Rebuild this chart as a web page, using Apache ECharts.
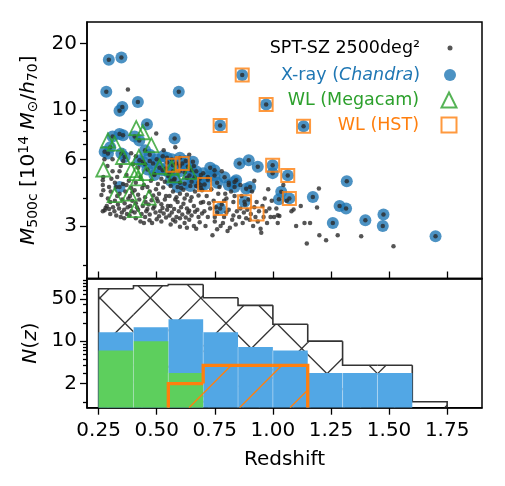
<!DOCTYPE html>
<html>
<head>
<meta charset="utf-8">
<script src="https://cdn.jsdelivr.net/npm/echarts@6/dist/echarts.min.js"></script>
<style>
html, body { margin: 0; padding: 0; background: #fff; }
#main { width: 505px; height: 486px; }
</style>
</head>
<body>
<div id="main"></div>
<script>
// tick values
const zTicks = [0.25, 0.5, 0.75, 1.0, 1.25, 1.5, 1.75];
const massTicks = [3, 6, 10, 20];
const massMinor = [2, 4, 5, 7, 8, 9];
const countTicks = [2, 10, 50];
const countMinor = [1, 3, 4, 5, 6, 7, 8, 9, 20, 30, 40, 60, 70, 80, 90, 100];

// clusters [redshift, M500c] - SPT-SZ without follow-up
const sptOnly = [
  [0.262,4.14],[0.268,4.83],[0.268,4.6],[0.27,4.35],[0.276,3.54],[0.268,3.5],[0.28,3.62],[0.285,3.7],[0.29,4.0],[0.295,3.58],
  [0.3,3.85],[0.302,4.3],[0.305,4.9],[0.31,5.3],[0.312,3.65],[0.318,3.5],[0.32,3.9],[0.325,4.5],[0.33,5.0],[0.333,3.75],
  [0.338,3.6],[0.34,4.2],[0.345,5.6],[0.35,3.45],[0.352,3.95],[0.355,4.65],[0.36,3.55],[0.362,3.8],[0.365,4.3],[0.37,5.1],
  [0.372,3.4],[0.375,3.65],[0.378,4.0],[0.38,4.8],[0.383,3.35],[0.386,3.7],[0.39,4.45],[0.392,3.5],[0.395,3.9],[0.398,5.7],
  [0.288,5.6],[0.31,6.0],[0.356,5.9],[0.376,12.4],[0.3,3.4],[0.326,3.35],[0.345,3.3],[0.36,3.25],[0.385,4.1],[0.34,5.3],
  [0.275,6.0],[0.39,6.4],[0.32,4.7],[0.27,5.0],[0.295,4.5],[0.33,4.1],[0.37,4.6],[0.395,4.25],
  [0.41,3.25],[0.43,3.15],[0.45,3.3],[0.469,3.19],[0.48,3.1],[0.5,3.22],[0.52,3.15],[0.54,3.28],[0.445,3.1],[0.51,3.32],
  [0.405,3.45],[0.42,3.55],[0.435,3.4],[0.455,3.5],[0.47,3.38],[0.485,3.6],[0.495,3.45],[0.515,3.5],[0.53,3.42],[0.545,3.55],
  [0.46,3.58],[0.525,3.62],[0.41,3.8],[0.425,3.95],[0.44,3.7],[0.452,3.85],[0.465,3.75],[0.478,3.92],[0.49,3.68],[0.505,3.88],
  [0.52,3.76],[0.535,3.95],[0.548,3.7],[0.415,3.65],[0.5,4.0],[0.405,4.35],[0.42,4.15],[0.438,4.45],[0.45,4.05],[0.47,4.3],
  [0.485,4.12],[0.497,4.4],[0.51,4.2],[0.528,4.48],[0.54,4.1],[0.46,4.5],[0.41,4.7],[0.43,5.0],[0.445,4.6],[0.475,4.8],
  [0.49,5.15],[0.505,4.65],[0.52,4.9],[0.535,4.75],[0.55,5.05],[0.42,5.5],[0.47,5.9],[0.498,7.85],[0.53,6.6],[0.45,5.7],
  [0.545,5.8],[0.41,6.2],
  [0.56,3.05],[0.58,3.15],[0.6,2.98],[0.62,3.1],[0.64,3.2],[0.66,3.0],[0.67,2.92],[0.685,3.12],[0.57,3.2],[0.63,2.95],
  [0.555,3.35],[0.565,3.45],[0.585,3.3],[0.595,3.5],[0.61,3.38],[0.625,3.28],[0.635,3.45],[0.65,3.35],[0.665,3.48],[0.68,3.3],
  [0.695,3.42],[0.6,3.25],[0.56,3.7],[0.575,3.58],[0.59,3.85],[0.605,3.65],[0.615,3.78],[0.63,3.6],[0.645,3.9],[0.66,3.7],
  [0.675,3.55],[0.69,3.82],[0.58,3.95],[0.64,3.52],[0.555,4.1],[0.57,4.3],[0.585,4.05],[0.6,4.2],[0.615,4.38],[0.63,4.15],
  [0.65,4.05],[0.665,4.3],[0.68,4.12],[0.695,4.35],[0.62,4.0],[0.605,4.45],[0.56,4.55],[0.575,4.85],[0.6,4.7],[0.63,4.95],
  [0.65,4.75],[0.67,4.55],[0.685,4.9],[0.69,4.45],[0.57,5.3],[0.62,5.25],[0.66,5.6],[0.6,5.6],[0.69,5.1],[0.58,6.8],[0.64,6.3],
  [0.71,3.0],[0.72,3.3],[0.73,3.6],[0.74,2.73],[0.745,3.9],[0.75,3.15],[0.76,3.45],[0.765,4.2],[0.775,3.0],[0.78,3.75],
  [0.79,3.3],[0.8,4.0],[0.805,2.85],[0.81,3.55],[0.82,4.3],[0.825,3.2],[0.83,3.85],[0.84,3.05],[0.845,3.5],[0.715,4.1],
  [0.725,3.8],[0.735,4.4],[0.755,3.65],[0.77,4.5],[0.785,3.1],[0.795,4.2],[0.8,3.45],[0.815,2.95],[0.835,4.1],[0.705,3.5],
  [0.72,4.85],[0.78,5.3],[0.81,4.7],[0.75,3.3],[0.83,3.35],[0.7,3.85],[0.76,2.9],[0.79,3.9],
  [0.855,3.3],[0.86,3.6],[0.865,4.1],[0.87,3.1],[0.875,3.45],[0.88,3.75],[0.885,3.25],[0.89,3.55],[0.895,3.95],[0.9,3.2],
  [0.905,3.4],[0.91,4.3],[0.915,3.0],[0.92,3.65],[0.925,3.3],[0.93,3.85],[0.935,3.15],[0.94,3.5],[0.947,2.92],[0.95,2.8],
  [0.955,3.7],[0.96,3.3],[0.965,4.0],[0.97,3.5],[0.975,3.1],[0.98,4.4],[0.985,3.6],[0.99,3.3],[0.86,4.6],[0.92,4.8],[0.995,3.9],
  [1.005,3.3],[1.015,3.6],[1.021,3.1],[1.021,3.36],[1.028,3.33],[1.045,4.6],[1.06,3.9],[1.08,3.5],[1.089,3.56],[1.1,3.0],
  [1.12,3.7],[1.146,2.5],[1.136,3.1],
  [1.16,3.1],[1.198,4.43],[1.19,3.64],[1.2,2.73],[1.229,2.59],[1.279,2.73],[1.38,2.7],[1.519,2.43]
];

// X-ray (Chandra) follow-up
const chandra = [
  [0.294,16.9],[0.348,17.3],[0.283,12.1],[0.352,10.35],[0.34,9.93],[0.34,7.8],[0.355,7.7],[0.31,7.6],[0.276,6.5],[0.29,6.37],
  [0.348,6.37],[0.362,6.15],[0.34,4.5],[0.30,6.8],
  [0.419,10.9],[0.458,8.65],[0.405,7.6],[0.425,7.3],[0.426,5.95],[0.44,5.85],[0.484,5.75],[0.526,6.2],[0.544,6.1],[0.512,5.5],
  [0.526,5.36],[0.45,6.6],[0.47,6.3],[0.5,6.0],[0.46,5.4],[0.49,5.1],[0.54,5.45],
  [0.595,12.1],[0.577,7.45],[0.584,5.75],[0.577,4.9],[0.634,5.55],[0.656,5.85],[0.649,5.36],[0.641,5.08],[0.663,4.98],[0.62,4.66],
  [0.57,5.64],[0.61,5.75],[0.565,6.0],[0.6,5.3],[0.625,5.9],[0.68,4.7],[0.59,4.5],[0.555,5.2],[0.67,5.3],[0.69,4.6],
  [0.6,6.1],[0.645,4.55],[0.56,4.8],
  [0.749,5.36],[0.749,5.08],[0.792,4.98],[0.842,4.83],[0.835,4.74],[0.835,4.5],[0.773,8.53],[0.773,3.6],[0.706,4.62],[0.72,5.0],
  [0.81,4.6],[0.73,5.5],[0.76,4.7],[0.7,5.2],
  [0.868,14.4],[0.971,10.6],[0.856,5.75],[0.896,5.95],[0.935,5.55],[0.885,4.42],[0.902,4.5],[0.878,3.86],
  [0.999,5.64],[0.999,5.2],[1.064,5.08],[1.036,4.29],[1.026,3.96],[1.071,4.0],[1.132,8.46],
  [1.172,4.06],[1.258,3.1],[1.287,3.7],[1.318,4.78],[1.315,3.6],[1.398,3.19],[1.476,3.38],[1.473,3.0],[1.7,2.7]
];

// WL Megacam
const megacam = [
  [0.29,7.3],[0.319,7.07],[0.355,6.15],[0.27,5.4],[0.39,5.36],[0.319,4.14],[0.383,4.2],
  [0.405,3.54],[0.412,8.3],[0.44,7.95],[0.477,6.95],[0.423,6.15],[0.412,5.2],[0.455,5.2],[0.419,4.92],[0.512,5.55],[0.466,4.03],
  [0.577,5.08],[0.641,5.27],[0.565,5.5]
];

// WL HST
const hst = [
  [0.868,14.4],[0.971,10.6],[0.773,8.53],[1.132,8.46],[0.57,5.64],[0.61,5.75],[0.706,4.62],
  [0.773,3.6],[0.878,3.86],[0.932,3.4],[0.999,5.64],[1.064,5.08],[1.071,4.0]
];

// histograms N(z)
const binEdges = [0.25, 0.40, 0.55, 0.70, 0.85, 1.00, 1.15, 1.30, 1.45, 1.60, 1.75];
const nSPT     = [73, 82, 86, 52, 39, 19, 10, 4, 4, 1];
const nChandra = [14, 17, 23, 14, 8, 7, 3, 3, 3, 0];
const nMegacam = [7, 10, 3, 0, 0, 0, 0, 0, 0, 0];
const nHST     = [0, 0, 2, 4, 4, 4, 0, 0, 0, 0];

const FONT = 'DejaVu Sans';

function histData(counts) {
  const out = [];
  counts.forEach(function (n, i) {
    if (n > 0) out.push([binEdges[i], binEdges[i + 1], n, counts[i - 1] || 0, counts[i + 1] || 0]);
  });
  return out;
}

// 45 degree hatch lines clipped to a pixel rect
function hatch(xa, xb, ya, yb, step, off, dir, style) {
  const segs = [];
  if (dir > 0) { // '/'  y = d - x
    let d = Math.ceil((xa + ya - off) / step) * step + off;
    for (; d <= xb + yb; d += step) {
      const xs = Math.max(xa, d - yb), xe = Math.min(xb, d - ya);
      if (xe > xs) segs.push({ type: 'line', shape: { x1: xs, y1: d - xs, x2: xe, y2: d - xe }, style: style });
    }
  } else { // '\'  y = x + c
    let c = Math.ceil((ya - xb - off) / step) * step + off;
    for (; c <= yb - xa; c += step) {
      const xs = Math.max(xa, ya - c), xe = Math.min(xb, yb - c);
      if (xe > xs) segs.push({ type: 'line', shape: { x1: xs, y1: xs + c, x2: xe, y2: xe + c }, style: style });
    }
  }
  return segs;
}

function histRender(opt) {
  return function (params, api) {
    const x0 = api.value(0), x1 = api.value(1), n = api.value(2);
    const prev = api.value(3), next = api.value(4);
    const cs = params.coordSys;
    const yBot = cs.y + cs.height;
    const tl = api.coord([x0, n]);
    const br = api.coord([x1, n]);
    const xa = tl[0], xb = br[0], ya = tl[1];
    let children = [];
    if (opt.fill) {
      children.push({ type: 'rect', shape: { x: xa, y: ya, width: xb - xa, height: yBot - ya }, style: { fill: opt.fill } });
      if (prev > 0) children.push({ type: 'line', shape: { x1: xa, y1: ya, x2: xa, y2: yBot }, style: { stroke: 'rgba(255,255,255,0.35)', lineWidth: 1 } });
    }
    if (opt.hatch) {
      const hs = { stroke: opt.hatchColor, lineWidth: opt.hatchWidth };
      opt.hatch.forEach(function (h) {
        children = children.concat(hatch(xa, xb, ya, yBot, opt.step, h.off, h.dir, hs));
      });
    }
    if (opt.stroke) {
      const yPrev = prev > 0 ? api.coord([x0, prev])[1] : yBot;
      const pts = [[xa, yPrev], [xa, ya], [xb, ya]];
      if (!(next > 0)) pts.push([xb, yBot]);
      children.push({ type: 'polyline', shape: { points: pts }, style: { stroke: opt.stroke, lineWidth: opt.lineWidth, fill: null, lineJoin: 'miter' } });
    }
    return { type: 'group', children: children };
  };
}

// legend entry: marker centred at x=450, text ending at x=420
function legendEntry(name, size, top, color, label, extra) {
  const rich = {
    a: { fontFamily: FONT, fontSize: 17.5, color: color },
    b: { fontFamily: FONT, fontSize: 17.5, fontStyle: 'italic', color: color },
    g: { fontFamily: FONT, fontSize: 17.5, width: 25 - size / 2 }
  };
  return Object.assign({
    data: [name], right: 505 - 450 - size / 2, top: top, itemWidth: size, itemHeight: size, padding: 0,
    align: 'right', selectedMode: false, formatter: label + '{g| }',
    textStyle: { fontFamily: FONT, fontSize: 17.5, color: color, rich: rich }
  }, extra || {});
}

const labelStyle = { fontFamily: FONT, fontSize: 20, color: '#000' };
const tickLine = { color: '#000', width: 1.3 };
const axisLine = { show: true, onZero: false, lineStyle: { color: '#000', width: 1.5 } };

const myChart = echarts.init(document.getElementById('main'), null, { renderer: 'canvas' });

const option = {
  animation: false,
  backgroundColor: '#fff',
  grid: [
    { left: 87, right: 23, top: 22, height: 256.5, show: true, borderColor: '#000', borderWidth: 1.5, backgroundColor: 'transparent' },
    { left: 87, right: 23, top: 278.5, height: 129.2, show: true, borderColor: '#000', borderWidth: 1.5, backgroundColor: 'transparent' }
  ],
  legend: [
    legendEntry('SPT-SZ', 5, 39, '#000', '{a|SPT-SZ 2500deg²}'),
    legendEntry('Chandra', 12, 66, '#1f77b4', '{a|X-ray (}{b|Chandra}{a|)}'),
    legendEntry('Megacam', 15, 91, '#2ca02c', '{a|WL (Megacam)}',
      { itemStyle: { color: 'transparent', borderColor: '#2ca02c', borderWidth: 2 } }),
    legendEntry('HST', 15, 116, '#ff7f0e', '{a|WL (HST)}',
      { itemStyle: { color: 'transparent', borderColor: '#ff7f0e', borderWidth: 2 } })
  ],
  xAxis: [
    { gridIndex: 0, type: 'value', min: 0.2, max: 1.9, axisLine: axisLine, splitLine: { show: false },
      axisTick: { show: true, inside: true, length: 7, customValues: zTicks, lineStyle: tickLine },
      axisLabel: { show: false } },
    { gridIndex: 1, type: 'value', min: 0.2, max: 1.9, axisLine: axisLine, splitLine: { show: false },
      axisTick: { show: true, length: 7, customValues: zTicks, lineStyle: tickLine },
      axisLabel: Object.assign({ customValues: zTicks, margin: 13, formatter: function (v) { return v.toFixed(2); } }, labelStyle),
      name: 'Redshift', nameLocation: 'middle', nameGap: 42, nameTextStyle: labelStyle }
  ],
  yAxis: [
    { gridIndex: 0, type: 'log', logBase: 10, min: 1.74, max: 25, position: 'left', axisLine: axisLine, splitLine: { show: false },
      axisTick: { show: true, length: 7, customValues: massTicks, lineStyle: tickLine },
      axisLabel: Object.assign({ customValues: massTicks, margin: 10, formatter: function (v) { return String(Math.round(v)); } }, labelStyle),
      name: '{i|M}{s|500c} [10{p|14} {i|M}{s|⊙}/{i|h}{s|70}]', nameLocation: 'middle', nameRotate: 90, nameGap: 40,
      nameTextStyle: Object.assign({
        rich: {
          i: { fontFamily: FONT, fontSize: 20, fontStyle: 'italic', color: '#000' },
          s: { fontFamily: FONT, fontSize: 14, color: '#000', padding: [9, 0, 0, 0] },
          p: { fontFamily: FONT, fontSize: 14, color: '#000', padding: [0, 0, 10, 0] }
        }
      }, labelStyle) },
    { gridIndex: 0, type: 'log', logBase: 10, min: 1.74, max: 25, position: 'left', axisLine: { show: false }, splitLine: { show: false },
      axisTick: { show: true, length: 4, customValues: massMinor, lineStyle: tickLine }, axisLabel: { show: false } },
    { gridIndex: 1, type: 'log', logBase: 10, min: 0.8, max: 108, position: 'left', axisLine: axisLine, splitLine: { show: false },
      axisTick: { show: true, length: 7, customValues: countTicks, lineStyle: tickLine },
      axisLabel: Object.assign({ customValues: countTicks, margin: 10, formatter: function (v) { return String(Math.round(v)); } }, labelStyle),
      name: '{i|N}({i|z})', nameLocation: 'middle', nameRotate: 90, nameGap: 42,
      nameTextStyle: Object.assign({ rich: { i: { fontFamily: FONT, fontSize: 20, fontStyle: 'italic', color: '#000' } } }, labelStyle) },
    { gridIndex: 1, type: 'log', logBase: 10, min: 0.8, max: 108, position: 'left', axisLine: { show: false }, splitLine: { show: false },
      axisTick: { show: true, length: 4, customValues: countMinor, lineStyle: tickLine }, axisLabel: { show: false } }
  ],
  series: [
    { name: 'Chandra', type: 'scatter', xAxisIndex: 0, yAxisIndex: 0, data: chandra, symbol: 'circle', symbolSize: 12,
      itemStyle: { color: '#1f77b4' }, silent: true, z: 2 },
    { name: 'SPT-SZ', type: 'scatter', xAxisIndex: 0, yAxisIndex: 0, data: sptOnly.concat(chandra), symbol: 'circle', symbolSize: 4.5,
      itemStyle: { color: '#2a2a2a' }, silent: true, z: 3 },
    { name: 'Megacam', type: 'scatter', xAxisIndex: 0, yAxisIndex: 0, data: megacam, symbol: 'triangle', symbolSize: 14,
      itemStyle: { color: 'rgba(0,0,0,0)', borderColor: '#2ca02c', borderWidth: 1.8 }, silent: true, z: 4 },
    { name: 'HST', type: 'scatter', xAxisIndex: 0, yAxisIndex: 0, data: hst, symbol: 'rect', symbolSize: 13,
      itemStyle: { color: 'rgba(0,0,0,0)', borderColor: '#ff7f0e', borderWidth: 2 }, silent: true, z: 5 },

    { name: 'hSPT', type: 'custom', xAxisIndex: 1, yAxisIndex: 2, data: histData(nSPT), encode: { x: [0, 1], y: 2 }, clip: true, silent: true, z: 2,
      renderItem: histRender({ stroke: '#333', lineWidth: 1.6, hatch: [{ dir: 1, off: 448.3 % 50.5 }, { dir: -1, off: 147.7 % 50.5 }],
        step: 50.5, hatchColor: '#333', hatchWidth: 1.3 }) },
    { name: 'hChandra', type: 'custom', xAxisIndex: 1, yAxisIndex: 2, data: histData(nChandra), encode: { x: [0, 1], y: 2 }, clip: true, silent: true, z: 3,
      renderItem: histRender({ fill: '#52a7e5' }) },
    { name: 'hMegacam', type: 'custom', xAxisIndex: 1, yAxisIndex: 2, data: histData(nMegacam), encode: { x: [0, 1], y: 2 }, clip: true, silent: true, z: 4,
      renderItem: histRender({ fill: '#5dcf5d' }) },
    { name: 'hHST', type: 'custom', xAxisIndex: 1, yAxisIndex: 2, data: histData(nHST), encode: { x: [0, 1], y: 2 }, clip: true, silent: true, z: 5,
      renderItem: histRender({ stroke: '#ff7f0e', lineWidth: 3.3, hatch: [{ dir: 1, off: 596.7 % 50.5 }],
        step: 50.5, hatchColor: '#ff7f0e', hatchWidth: 1.4 }) }
  ]
};

myChart.setOption(option);
</script>
</body>
</html>
